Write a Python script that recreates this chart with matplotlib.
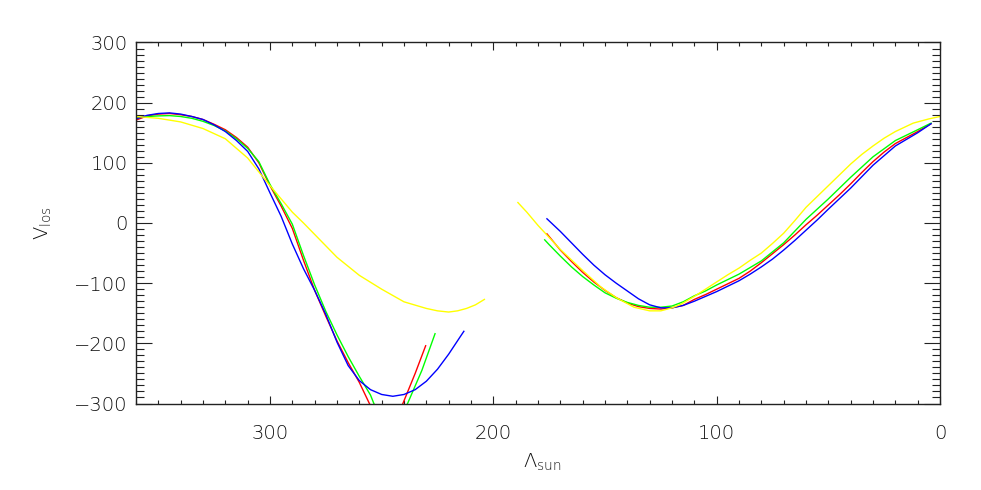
import matplotlib
matplotlib.use("Agg")
import matplotlib.pyplot as plt
from matplotlib.ticker import MultipleLocator

# solar longitude (deg) and line-of-sight velocity
# each curve has a part before and after the gap near 200 deg
red_lam_a = [360, 355, 350, 345, 340, 335, 330, 325, 320, 315, 310, 305, 300, 295, 290,
             285, 280, 275, 270, 265, 260, 255.5, 252, 244, 240.5, 235, 230.3]
red_v_a = [171, 178, 181, 182, 180, 177, 172, 164, 155, 142, 126, 100, 62, 28, -9,
           -62, -112, -155, -196, -232, -265, -300, -325, -325, -300, -250, -204]
red_lam_b = [176, 170, 165, 160, 155, 150, 145, 140, 135, 130, 125, 120, 115, 110, 105, 100,
             95, 90, 85, 80, 75, 70, 65, 60, 55, 50, 45, 40, 35, 30, 25, 20, 15, 10, 4]
red_v_b = [-18, -45, -64, -82, -98, -112, -124, -133, -139, -142, -143, -141, -137, -127, -119, -110,
           -101, -92, -80, -66, -51, -36, -20, -3, 13, 30, 47, 65, 84, 102, 118, 132, 142, 152, 165]

green_lam_a = [360, 355, 350, 345, 340, 335, 330, 325, 320, 315, 310, 305, 300, 295, 290,
               285, 280, 275, 270, 265, 260, 255, 253.5, 250, 242, 238.4, 232, 226.1]
green_v_a = [174.5, 177, 178, 178.5, 177, 174, 169, 162, 153, 140, 124, 102, 64, 32, -2,
             -54, -103, -147, -186, -222, -255, -286, -300, -325, -325, -300, -245, -184]
green_lam_b = [177, 175, 170, 165, 160, 155, 150, 145, 140, 135, 130, 125, 120, 115, 110, 105,
               100, 95, 90, 85, 80, 70, 60, 50, 40, 30, 20, 10, 4]
green_v_b = [-28, -36, -55, -73, -89, -103, -116, -125, -132, -137, -140, -140, -138, -131, -121, -113,
             -103, -94, -85, -74, -63, -33, 6, 40, 76, 110, 137, 155, 166]

blue_lam_a = [360, 355, 350, 345, 340, 335, 330, 325, 320, 315, 310, 305, 300, 295, 290,
              285, 280, 275, 270, 265, 260, 255, 250, 245, 240, 235, 230, 225, 220, 215, 213.2]
blue_v_a = [173, 179, 182, 183, 181, 177, 172, 163, 152, 137, 119, 90, 50, 11, -35,
            -76, -112, -152, -198, -237, -262, -277, -285, -288, -285, -277, -263, -243, -218, -190, -180]
blue_lam_b = [176, 170, 165, 160, 155, 150, 145, 140, 135, 130, 125, 120, 115, 110, 105, 100,
              95, 90, 85, 80, 75, 70, 65, 60, 55, 50, 40, 30, 20, 10, 4]
blue_v_b = [7, -14, -33, -52, -70, -86, -100, -113, -126, -136, -141, -141, -137, -130, -122, -114,
            -105, -96, -85, -73, -60, -45, -29, -12, 5, 23, 58, 96, 128, 150, 165]

yellow_lam_a = [360, 350, 340, 330, 320, 310, 300, 295, 290, 285, 280, 270, 260, 250, 240,
                230, 225, 220, 216, 212, 208, 204]
yellow_v_a = [177, 174, 168, 157, 140, 108, 62, 40, 18, 0, -19, -57, -87, -110, -131,
              -142, -146, -148, -146, -142, -136, -127]
yellow_lam_b = [189, 185, 180, 175, 170, 160, 152, 145, 137, 130, 125, 120, 116, 110, 105, 100,
                95, 90, 85, 80, 75, 70, 65, 60, 55, 50, 45, 40, 35, 30, 25, 20, 12, 5, 0]
yellow_v_b = [34, 18, -4, -24, -44, -79, -106, -124, -140, -146, -146, -141, -135, -122, -110, -98,
              -86, -75, -62, -50, -34, -17, 4, 26, 44, 62, 80, 98, 114, 128, 141, 152, 166, 173, 177]

series = [
    ("#ff0000", red_lam_a, red_v_a, red_lam_b, red_v_b),
    ("#00ff00", green_lam_a, green_v_a, green_lam_b, green_v_b),
    ("#0000ff", blue_lam_a, blue_v_a, blue_lam_b, blue_v_b),
    ("#ffff00", yellow_lam_a, yellow_v_a, yellow_lam_b, yellow_v_b),
]

plt.rcParams['font.family'] = 'DejaVu Sans'
plt.rcParams['font.weight'] = 200
plt.rcParams['mathtext.default'] = 'regular'

fig = plt.figure(figsize=(9.81, 4.90), dpi=100)
ax = fig.add_axes([136 / 981, 1 - 403.5 / 490, 804 / 981, 361 / 490])

for color, la, va, lb, vb in series:
    ax.plot(la, va, color=color, lw=1.0)
    ax.plot(lb, vb, color=color, lw=1.0)

ax.set_xlim(360, 0)
ax.set_ylim(-300, 300)

ax.xaxis.set_major_locator(MultipleLocator(100))
ax.xaxis.set_minor_locator(MultipleLocator(10))
ax.yaxis.set_major_locator(MultipleLocator(100))
ax.yaxis.set_minor_locator(MultipleLocator(10))

axis_col = "#222222"
for sp in ax.spines.values():
    sp.set_color(axis_col)
    sp.set_linewidth(1.0)

ax.tick_params(axis='both', which='both', direction='in', top=True, right=True,
               color=axis_col, width=0.8, labelcolor="#111111", labelsize=14)
ax.tick_params(axis='y', which='major', length=11.3, pad=6)
ax.tick_params(axis='y', which='minor', length=5.7)
ax.tick_params(axis='x', which='major', length=5.5, pad=15)
ax.tick_params(axis='x', which='minor', length=2.8)

for lab in ax.get_xticklabels() + ax.get_yticklabels():
    lab.set_fontweight(200)

fig.text(542 / 981, 1 - 462 / 490, r'$\mathregular{\Lambda_{sun}}$', ha='center', va='center',
         fontsize=14, weight=200, color="#111111")
fig.text(43 / 981, 1 - 223 / 490, r'$\mathregular{V_{los}}$', ha='center', va='center',
         rotation=90, fontsize=14, weight=200, color="#111111")

fig.savefig("out.png", dpi=100)
